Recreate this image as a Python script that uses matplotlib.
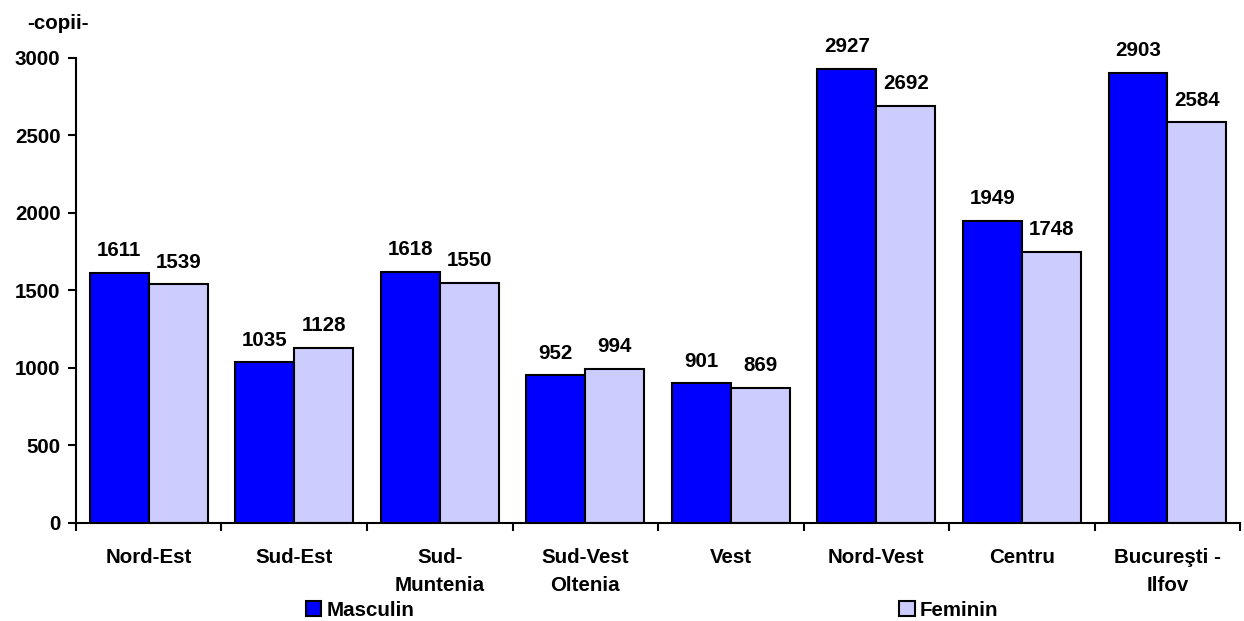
import matplotlib.pyplot as plt
from matplotlib.patches import Patch
import numpy as np

plt.rcParams['font.family'] = ['Liberation Sans', 'DejaVu Sans']
plt.rcParams['font.weight'] = 'bold'

regions = ['Nord-Est', 'Sud-Est', 'Sud-\nMuntenia', 'Sud-Vest\nOltenia', 'Vest',
           'Nord-Vest', 'Centru', 'Bucureşti -\nIlfov']
masculin = [1611, 1035, 1618, 952, 901, 2927, 1949, 2903]
feminin = [1539, 1128, 1550, 994, 869, 2692, 1748, 2584]

FS = 14.8

fig = plt.figure(figsize=(12.44, 6.21), dpi=100)
ax = fig.add_axes([0.061, 0.158, 0.936, 0.749])

x = np.arange(len(regions))
w = 0.405
b1 = ax.bar(x - w / 2, masculin, w, color='#0000FF', edgecolor='black', linewidth=1.5)
b2 = ax.bar(x + w / 2, feminin, w, color='#CCCCFF', edgecolor='black', linewidth=1.5)

# value labels above the bars
for bars in (b1, b2):
    for r in bars:
        ax.annotate(str(int(r.get_height())), (r.get_x() + r.get_width() / 2, r.get_height()),
                    xytext=(0, 12), textcoords='offset points',
                    ha='center', va='baseline', fontsize=FS, fontweight='bold')

ax.set_xlim(-0.5, len(regions) - 0.5)
ax.set_ylim(0, 3000)
ax.set_yticks(range(0, 3001, 500))
ax.set_xticks(x)
ax.set_xticklabels(regions, fontsize=FS, fontweight='bold', va='top', linespacing=1.6)
ax.set_xticks(np.arange(-0.5, len(regions)), minor=True)
ax.tick_params(axis='x', which='major', length=0, pad=18)
ax.tick_params(axis='x', which='minor', length=6, width=1.5, direction='out')
ax.tick_params(axis='y', length=6, width=1.5, direction='out', labelsize=FS, pad=5)
for lbl in ax.get_yticklabels():
    lbl.set_fontweight('bold')

for s in ('top', 'right'):
    ax.spines[s].set_visible(False)
for s in ('left', 'bottom'):
    ax.spines[s].set_linewidth(1.5)

fig.text(0.022, 0.962, '-copii-', fontsize=FS, fontweight='bold', ha='left', va='center')

leg_kw = dict(frameon=False, handlelength=0.75, handleheight=0.75, handletextpad=0.25,
              prop={'size': FS, 'weight': 'bold'}, borderpad=0)
fig.legend([Patch(facecolor='#0000FF', edgecolor='black', linewidth=1.5)], ['Masculin'],
           loc='center left', bbox_to_anchor=(0.2375, 0.017), **leg_kw)
fig.legend([Patch(facecolor='#CCCCFF', edgecolor='black', linewidth=1.5)], ['Feminin'],
           loc='center left', bbox_to_anchor=(0.7145, 0.017), **leg_kw)

fig.savefig('out.png', dpi=100)
